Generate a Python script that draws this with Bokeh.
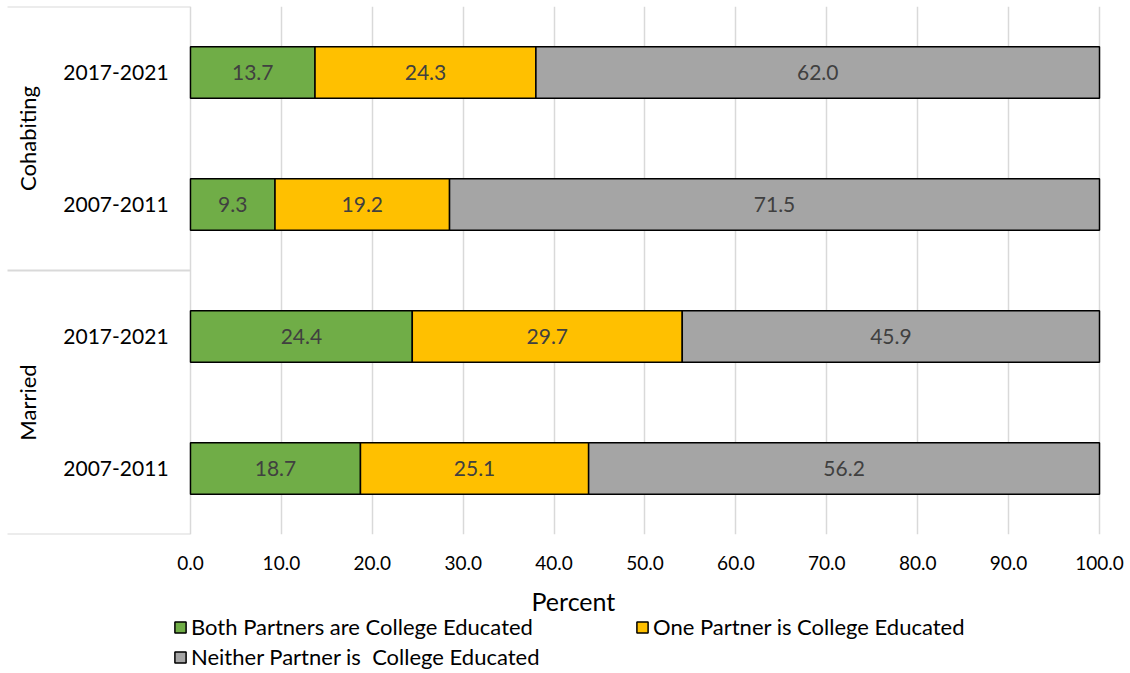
import numpy as np
from bokeh.plotting import figure
from bokeh.layouts import column
from bokeh.models import (ColumnDataSource, FactorRange, Range1d, FixedTicker,
                          Legend, LegendItem)
from bokeh.core.properties import value
from bokeh.embed import file_html
from bokeh.resources import INLINE

# ---- data ----
groups = ["Married", "Married", "Cohabiting", "Cohabiting"]
periods = ["2007-2011", "2017-2021", "2007-2011", "2017-2021"]
both = [18.7, 24.4, 9.3, 13.7]
one = [25.1, 29.7, 19.2, 24.3]
neither = [56.2, 45.9, 71.5, 62.0]
series_names = ["Both Partners are College Educated",
                "One Partner is College Educated",
                "Neither Partner is  College Educated"]
series_colors = ["#70AD47", "#FFC000", "#A5A5A5"]
x_ticks = [0, 10, 20, 30, 40, 50, 60, 70, 80, 90, 100]
tick_labels = ["0.0", "10.0", "20.0", "30.0", "40.0", "50.0",
               "60.0", "70.0", "80.0", "90.0", "100.0"]
group_names = ["Cohabiting", "Married"]
x_title = "Percent"

FONT = "Lato"
W, H = 1130, 673
H1 = 585
factors = list(zip(groups, periods))

src = ColumnDataSource(dict(cat=factors, s0=both, s1=one, s2=neither))

p = figure(width=W, height=H1, output_backend="svg", toolbar_location=None,
           y_range=FactorRange(factors=factors, group_padding=0, range_padding=0),
           x_range=Range1d(-20.35, 100.33),
           y_axis_location=None,
           min_border_left=5, min_border_right=28,
           min_border_top=6, min_border_bottom=H1 - 534)
p.outline_line_color = None
p.ygrid.grid_line_color = None
p.xgrid.grid_line_color = "#D9D9D9"
p.xgrid.grid_line_width = 1.5
p.background_fill_color = "white"
p.border_fill_color = "white"

# axis
ax = p.xaxis[0]
ax.ticker = FixedTicker(ticks=x_ticks)
ax.major_label_overrides = {t: l for t, l in zip(x_ticks, tick_labels)}
ax.axis_line_color = None
ax.major_tick_line_color = None
ax.minor_tick_line_color = None
ax.major_tick_out = 0
ax.major_tick_in = 0
ax.major_label_standoff = 21
ax.major_label_text_font = FONT
ax.major_label_text_font_size = "19px"
ax.major_label_text_color = "#000000"

# bars
renderers = p.hbar_stack(["s0", "s1", "s2"], y="cat", height=0.39, source=src,
                         color=series_colors, line_color="#000000", line_width=1.5)

# bar value labels
vals = np.array([both, one, neither])
lefts = np.vstack([np.zeros(len(both)), np.cumsum(vals, axis=0)[:-1]])
centers = lefts + vals / 2
for i in range(3):
    p.text(x=list(centers[i]), y=factors, text=["%.1f" % v for v in vals[i]],
           text_align="center", text_baseline="middle",
           text_font=value(FONT), text_font_size="21px", text_color="#404040")

# category (period) labels
p.text(x=[-8.2] * len(periods), y=factors, text=periods,
       text_align="center", text_baseline="middle",
       text_font=value(FONT), text_font_size="21px", text_color="#000000")

# group labels (rotated)
p.text(x=[-17.93] * len(group_names), y=group_names, text=group_names,
       angle=np.pi / 2, text_align="center", text_baseline="middle",
       text_font=value(FONT), text_font_size="22px", text_color="#000000")

# table lines on the left
bounds = [("Married", "2007-2011", -0.5), ("Cohabiting", "2007-2011", -0.5),
          ("Cohabiting", "2017-2021", 0.5)]
p.segment(x0=[-20.13] * 3, x1=[0] * 3, y0=bounds, y1=bounds,
          line_color="#D9D9D9", line_width=2)

# ---- bottom strip: axis title + legend (page-pixel coordinates) ----
p2 = figure(width=W, height=H - H1, output_backend="svg", toolbar_location=None,
            x_range=Range1d(0, W), y_range=Range1d(H, H1),
            x_axis_location=None, y_axis_location=None,
            min_border=0, min_border_left=0, min_border_right=0,
            min_border_top=0, min_border_bottom=0)
p2.outline_line_color = None
p2.xgrid.visible = False
p2.ygrid.visible = False
p2.background_fill_color = "white"
p2.border_fill_color = "white"

p2.text(x=[585], y=[600], text=[x_title], text_align="center",
        text_baseline="middle", text_font=value(FONT),
        text_font_size="25px", text_color="#000000")

# legend proxies (one NaN row each, so nothing is drawn in the plot area)
proxies = [p2.hbar(y=[np.nan], right=[np.nan], height=1, fill_color=c,
                   line_color="#000000", line_width=1.5) for c in series_colors]
order = [0, 2, 1]  # grid fills column-wise -> gives row-wise reading order
items = [LegendItem(label=series_names[i], renderers=[proxies[i]]) for i in order]
leg = Legend(items=items, location=(168, 3), ncols=2,
             glyph_width=14, glyph_height=14, label_standoff=4,
             label_width=441, label_height=26, spacing=3,
             padding=0, margin=0, border_line_color=None,
             background_fill_alpha=0,
             label_text_font=FONT, label_text_font_size="22px",
             label_text_color="#000000")
p2.add_layout(leg)

open("out.html", "w").write(file_html(column(p, p2, spacing=0), INLINE))
